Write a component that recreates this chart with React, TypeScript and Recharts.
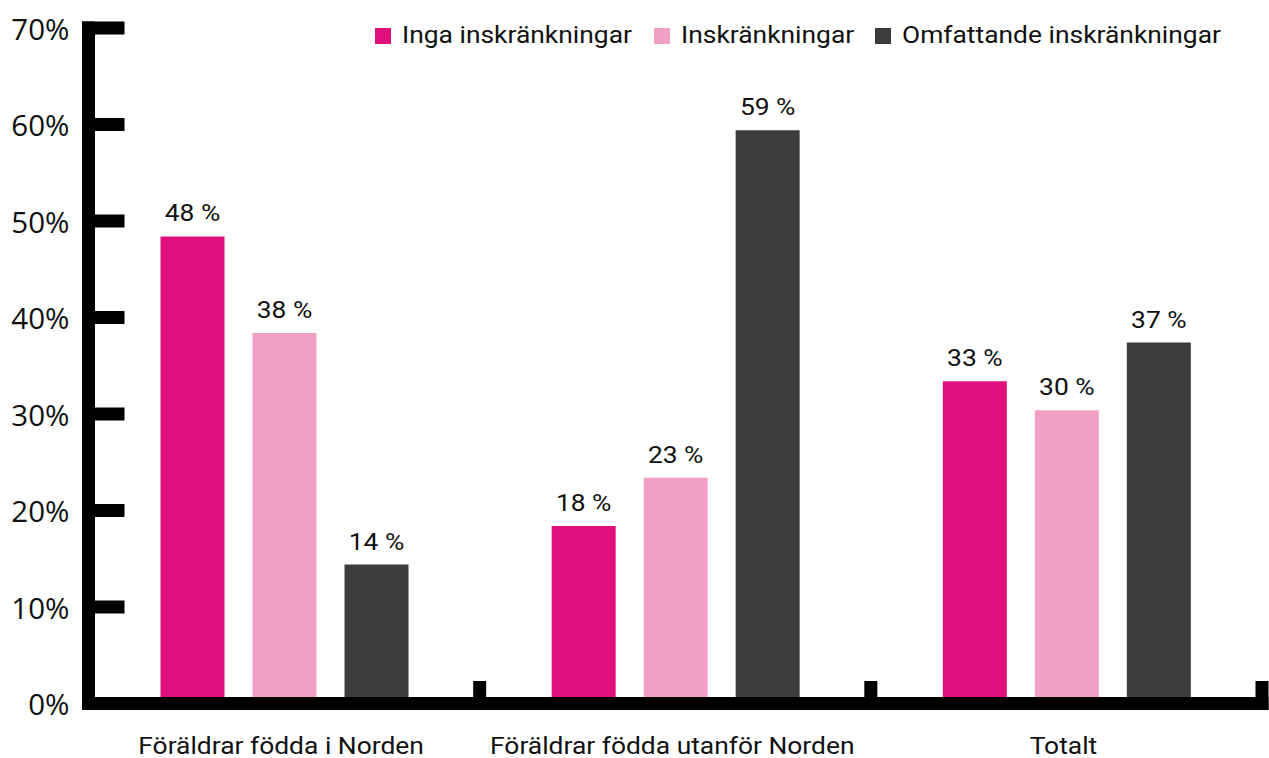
import React from 'react';
import { BarChart, Bar, XAxis, YAxis, Legend, LabelList } from 'recharts';

const categories = ['Föräldrar födda i Norden', 'Föräldrar födda utanför Norden', 'Totalt'];
const seriesNames = ['Inga inskränkningar', 'Inskränkningar', 'Omfattande inskränkningar'];
const ingaValues = [48.4, 18.4, 33.4];
const inskrValues = [38.4, 23.4, 30.4];
const omfattandeValues = [14.4, 59.4, 37.4];
const yTicks = [0, 10, 20, 30, 40, 50, 60, 70];

const colors = ['#E0117F', '#F29FC5', '#3C3C3B'];
const keys = ['inga', 'inskr', 'omf'];

const data = categories.map((name, i) => ({
  name,
  inga: ingaValues[i],
  inskr: inskrValues[i],
  omf: omfattandeValues[i],
}));

const W = 1269;
const H = 758;
const margin = { top: 28, right: 7, bottom: 0, left: 0 };
const Y_W = 88.5;
const X_H = 54.5;
const bandW = (W - margin.left - margin.right - Y_W) / categories.length;
// the reference text looks a bit stretched sideways
const SX = 1.1;
const legendLeft = [0, 279, 500];

const fmtPct = (v: any) => `${Math.round(Number(v))} %`;

const YTick = (props: any) => {
  const { x, y, payload } = props;
  return (
    <g>
      <line x1={x - 6.5} x2={x + 36} y1={y} y2={y} stroke="#000" strokeWidth={13} />
      <text
        x={x - 19}
        y={y}
        textAnchor="end"
        dominantBaseline="central"
        fontFamily="'Open Sans', sans-serif"
        fontSize={29.5}
        fill="#111"
      >
        {payload.value}%
      </text>
    </g>
  );
};

const XTick = (props: any) => {
  const { x, y, payload } = props;
  return (
    <g>
      <rect x={x + bandW / 2 - 6.5} y={y - 22.5} width={13} height={29} fill="#000" />
      <text
        transform={`translate(${x - 3},${y + 50}) scale(${SX},1)`}
        textAnchor="middle"
        fontFamily="Roboto, sans-serif"
        fontSize={24}
        fill="#111"
      >
        {payload.value}
      </text>
    </g>
  );
};

const ValueLabel = (props: any) => {
  const { x, y, width, value } = props;
  return (
    <text
      transform={`translate(${x + width / 2},${y - 15}) scale(${SX},1)`}
      textAnchor="middle"
      fontFamily="Roboto, sans-serif"
      fontSize={24}
      fill="#111"
    >
      {fmtPct(value)}
    </text>
  );
};

const LegendContent = () => (
  <div style={{ position: 'relative', height: 34, fontFamily: 'Roboto, sans-serif', fontSize: 24, color: '#111' }}>
    {seriesNames.map((n, i) => (
      <div key={n} style={{ position: 'absolute', left: legendLeft[i], top: 0, height: 34, display: 'flex', alignItems: 'center' }}>
        <span style={{ display: 'inline-block', width: 16, height: 16, background: colors[i], marginRight: 11, marginTop: 2 }} />
        <span style={{ display: 'inline-block', transform: `scaleX(${SX})`, transformOrigin: 'left center', whiteSpace: 'nowrap' }}>{n}</span>
      </div>
    ))}
  </div>
);

export default function App() {
  return (
    <div style={{ position: 'absolute', left: 0, top: 0, width: W, height: H, background: '#fff' }}>
      <BarChart width={W} height={H} data={data} margin={margin} barSize={64} barGap={28}>
        {keys.map((k, i) => (
          <Bar key={k} dataKey={k} name={seriesNames[i]} fill={colors[i]} isAnimationActive={false}>
            <LabelList dataKey={k} content={<ValueLabel />} />
          </Bar>
        ))}
        <YAxis
          width={Y_W}
          domain={[0, 70]}
          ticks={yTicks}
          interval={0}
          tickSize={0}
          tickMargin={0}
          tickLine={false}
          axisLine={{ stroke: '#000', strokeWidth: 13, strokeLinecap: 'square' }}
          tick={<YTick />}
        />
        <XAxis
          dataKey="name"
          height={X_H}
          tickSize={0}
          tickMargin={0}
          tickLine={false}
          interval={0}
          axisLine={{ stroke: '#000', strokeWidth: 13, strokeLinecap: 'square' }}
          tick={<XTick />}
        />
        <Legend
          content={<LegendContent />}
          layout="horizontal"
          verticalAlign="middle"
          align="center"
          wrapperStyle={{ position: 'absolute', top: 18, left: 375, width: 880, height: 34 }}
        />
      </BarChart>
    </div>
  );
}
